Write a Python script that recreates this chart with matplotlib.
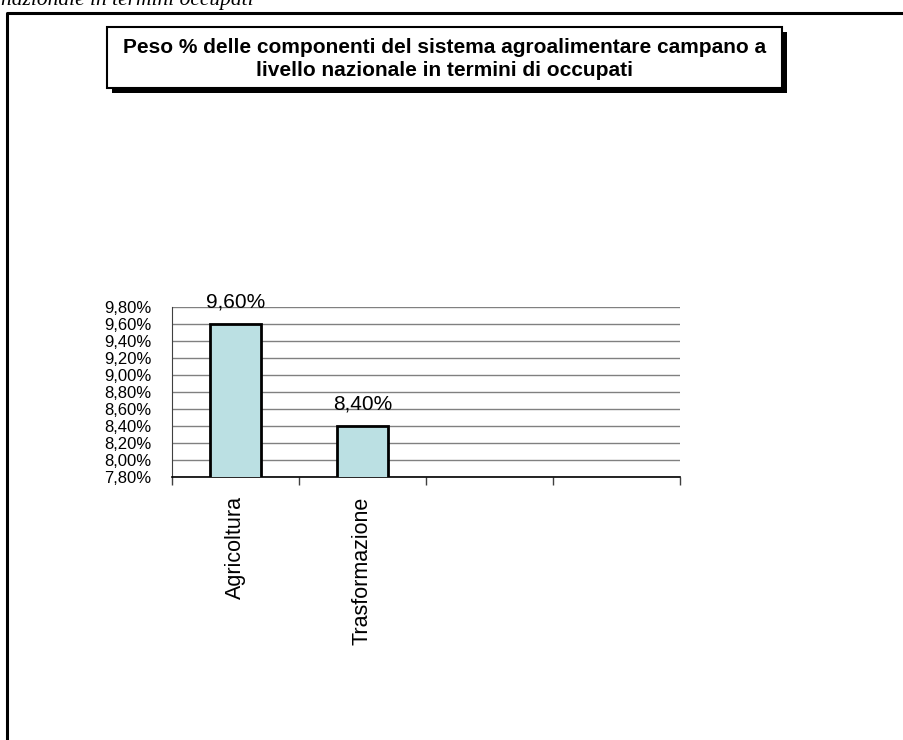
import matplotlib
matplotlib.use("Agg")
import matplotlib.pyplot as plt
from matplotlib.patches import Rectangle
from matplotlib.lines import Line2D
from matplotlib.ticker import FuncFormatter, FixedLocator

# =============================
# Data
# =============================
categories = ["Agricoltura", "Trasformazione", "", ""]
values = [9.60, 8.40]
y_ticks = [7.8, 8.0, 8.2, 8.4, 8.6, 8.8, 9.0, 9.2, 9.4, 9.6, 9.8]
title = ("Peso % delle componenti del sistema agroalimentare campano a\n"
         "livello nazionale in termini di occupati")
caption = "nazionale in termini occupati"

W, H = 904, 740
plt.rcParams['font.family'] = ['Liberation Sans', 'DejaVu Sans']

fig = plt.figure(figsize=(W / 100, H / 100), dpi=100)


def px(x0, y0, x1, y1):
    # pixel box (top-left origin) -> figure fraction rect
    return [x0 / W, 1 - y1 / H, (x1 - x0) / W, (y1 - y0) / H]


# clipped caption line at the very top (from surrounding document)
fig.text(1 / W, 1 - 5 / H, caption, family='Liberation Serif', style='italic',
         fontsize=15.5, ha='left', va='baseline')

# outer frame (left and top only, rest cut off)
fig.add_artist(Line2D([7 / W, 7 / W, 1.0], [0, 1 - 13 / H, 1 - 13 / H],
                      transform=fig.transFigure, color='black', lw=2.2))

# title box with shadow
bx0, by0, bx1, by1 = 107, 27, 782, 88
sh = 5
fig.add_artist(Rectangle(((bx0 + sh) / W, 1 - (by1 + sh) / H), (bx1 - bx0) / W,
                         (by1 - by0) / H, transform=fig.transFigure,
                         facecolor='black', edgecolor='black', lw=0))
fig.add_artist(Rectangle((bx0 / W, 1 - by1 / H), (bx1 - bx0) / W, (by1 - by0) / H,
                         transform=fig.transFigure, facecolor='white',
                         edgecolor='black', lw=1.5))
fig.text((bx0 + bx1) / 2 / W, 1 - (by0 + by1 + 3) / 2 / H, title, ha='center',
         va='center', fontsize=15, fontweight='bold', linespacing=1.25)

# =============================
# Plot
# =============================
ax = fig.add_axes(px(172, 307, 680, 477))
x = list(range(len(values)))
ax.bar(x, values, width=0.4, bottom=0, color='#BBE0E3', edgecolor='black',
       linewidth=2, zorder=3)
for xi, v in zip(x, values):
    ax.annotate(f"{v:.2f}%".replace('.', ','), (xi, v), xytext=(0, 9),
                textcoords='offset points', ha='center', va='bottom',
                fontsize=15)

ax.set_ylim(y_ticks[0], y_ticks[-1])
ax.set_xlim(-0.5, len(categories) - 0.5)
ax.set_yticks(y_ticks)
ax.yaxis.set_major_formatter(FuncFormatter(lambda v, p: f"{v:.2f}%".replace('.', ',')))
ax.yaxis.grid(True, color='#808080', lw=1)
ax.set_axisbelow(True)
ax.tick_params(axis='y', length=0, pad=15, labelsize=12)

ax.set_xticks(range(len(categories)))
ax.set_xticklabels(categories, rotation=90, fontsize=15.5)
ax.xaxis.set_minor_locator(FixedLocator([i - 0.5 for i in range(len(categories) + 1)]))
ax.tick_params(axis='x', which='major', length=0, pad=14)
ax.tick_params(axis='x', which='minor', length=6, width=1, direction='out',
               color='#404040')

for s in ['top', 'right']:
    ax.spines[s].set_visible(False)
ax.spines['left'].set_color('#404040')
ax.spines['bottom'].set_color('black')
ax.spines['bottom'].set_linewidth(1.2)

fig.savefig("out.png", dpi=100)
